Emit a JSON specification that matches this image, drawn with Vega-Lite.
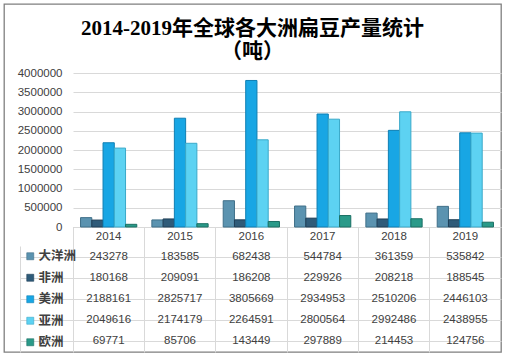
{
  "$schema": "https://vega.github.io/schema/vega-lite/v6.json",
  "width": 497,
  "height": 348,
  "autosize": {"type": "none"},
  "padding": {"left": 4, "top": 4, "right": 6, "bottom": 5},
  "background": "white",
  "config": {
    "view": {"stroke": "#7f7f7f", "strokeWidth": 1.3},
    "font": "Liberation Sans"
  },
  "title": {
    "text": ["2014-2019年全球各大洲扁豆产量统计", "（吨）"],
    "anchor": "middle",
    "frame": "group",
    "font": "Liberation Serif, Noto Sans CJK SC",
    "fontSize": 21,
    "fontWeight": "bold",
    "color": "#000000",
    "lineHeight": 23,
    "offset": -58
  },
  "data": {
    "values": [
      {"year": "2014", "continent": "大洋洲", "value": 243278},
      {"year": "2015", "continent": "大洋洲", "value": 183585},
      {"year": "2016", "continent": "大洋洲", "value": 682438},
      {"year": "2017", "continent": "大洋洲", "value": 544784},
      {"year": "2018", "continent": "大洋洲", "value": 361359},
      {"year": "2019", "continent": "大洋洲", "value": 535842},
      {"year": "2014", "continent": "非洲", "value": 180168},
      {"year": "2015", "continent": "非洲", "value": 209091},
      {"year": "2016", "continent": "非洲", "value": 186208},
      {"year": "2017", "continent": "非洲", "value": 229926},
      {"year": "2018", "continent": "非洲", "value": 208218},
      {"year": "2019", "continent": "非洲", "value": 188545},
      {"year": "2014", "continent": "美洲", "value": 2188161},
      {"year": "2015", "continent": "美洲", "value": 2825717},
      {"year": "2016", "continent": "美洲", "value": 3805669},
      {"year": "2017", "continent": "美洲", "value": 2934953},
      {"year": "2018", "continent": "美洲", "value": 2510206},
      {"year": "2019", "continent": "美洲", "value": 2446103},
      {"year": "2014", "continent": "亚洲", "value": 2049616},
      {"year": "2015", "continent": "亚洲", "value": 2174179},
      {"year": "2016", "continent": "亚洲", "value": 2264591},
      {"year": "2017", "continent": "亚洲", "value": 2800564},
      {"year": "2018", "continent": "亚洲", "value": 2992486},
      {"year": "2019", "continent": "亚洲", "value": 2438955},
      {"year": "2014", "continent": "欧洲", "value": 69771},
      {"year": "2015", "continent": "欧洲", "value": 85706},
      {"year": "2016", "continent": "欧洲", "value": 143449},
      {"year": "2017", "continent": "欧洲", "value": 297889},
      {"year": "2018", "continent": "欧洲", "value": 214453},
      {"year": "2019", "continent": "欧洲", "value": 124756}
    ]
  },
  "layer": [
    {
      "mark": {"type": "bar", "strokeWidth": 1},
      "encoding": {
        "x": {
          "field": "year", "type": "ordinal",
          "scale": {"range": [69, 497], "paddingInner": 0, "paddingOuter": 0},
          "axis": {
            "title": null, "orient": "bottom", "offset": -125,
            "bandPosition": 0, "tickSize": 125, "tickColor": "#d9d9d9",
            "domainColor": "#bfbfbf", "labelPadding": -122, "labelAngle": 0,
            "labelFontSize": 11.5, "labelColor": "#404040", "grid": false
          }
        },
        "xOffset": {
          "field": "continent", "type": "nominal",
          "sort": ["大洋洲", "非洲", "美洲", "亚洲", "欧洲"],
          "scale": {"paddingInner": 0, "paddingOuter": 0.67}
        },
        "y": {
          "field": "value", "type": "quantitative",
          "scale": {"domain": [0, 4000000], "range": [223, 69], "nice": false},
          "axis": {
            "title": null, "orient": "left", "offset": -69,
            "values": [0, 500000, 1000000, 1500000, 2000000, 2500000, 3000000, 3500000, 4000000],
            "format": "d", "domain": false, "grid": false,
            "tickSize": -428, "tickColor": "#d9d9d9", "labelPadding": 439,
            "labelFontSize": 11.5, "labelColor": "#404040"
          }
        },
        "color": {
          "field": "continent", "type": "nominal",
          "scale": {
            "domain": ["大洋洲", "非洲", "美洲", "亚洲", "欧洲"],
            "range": ["#5b93b0", "#2f5b79", "#18a6e4", "#5dd2f2", "#2a9a89"]
          },
          "legend": {
            "orient": "none", "legendX": 20, "legendY": 246,
            "title": null, "symbolType": "square", "symbolSize": 49,
            "symbolStrokeWidth": 0.6, "symbolStrokeColor": "#3a5a70",
            "labelFont": "Noto Sans CJK SC", "labelFontSize": 12.5, "labelFontWeight": "bold",
            "labelColor": "#404040", "labelOffset": 2, "rowPadding": 8.5, "padding": 0
          }
        },
        "stroke": {
          "field": "continent", "type": "nominal",
          "scale": {
            "domain": ["大洋洲", "非洲", "美洲", "亚洲", "欧洲"],
            "range": ["#3f6f88", "#1f3f57", "#0f7fb3", "#3aa9c9", "#1a6f63"]
          },
          "legend": null
        }
      }
    },
    {
      "mark": {"type": "text", "fontSize": 11.5, "color": "#404040"},
      "encoding": {
        "x": {"field": "year", "type": "ordinal"},
        "y": {
          "field": "continent", "type": "nominal",
          "sort": ["大洋洲", "非洲", "美洲", "亚洲", "欧洲"],
          "scale": {"range": [242, 348], "paddingInner": 0, "paddingOuter": 0},
          "axis": {
            "title": null, "orient": "left", "offset": -16, "labels": false,
            "bandPosition": 0, "tickSize": -481, "tickColor": "#d9d9d9",
            "domainColor": "#d9d9d9", "grid": false
          }
        },
        "text": {"field": "value", "type": "quantitative", "format": "d"}
      }
    }
  ],
  "resolve": {"scale": {"y": "independent"}, "axis": {"y": "independent"}}
}
